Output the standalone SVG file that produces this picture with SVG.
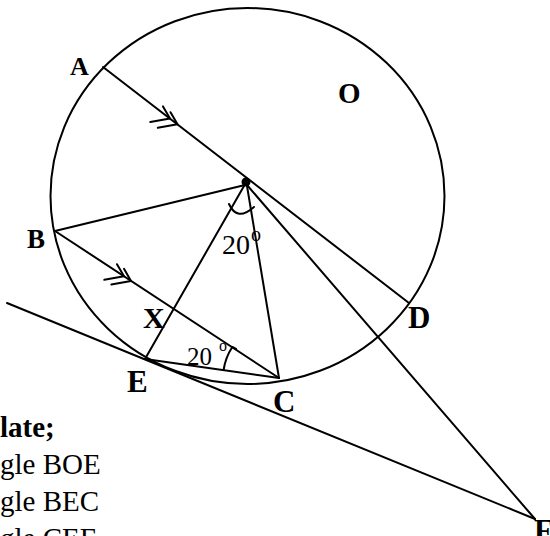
<svg xmlns="http://www.w3.org/2000/svg" width="550" height="536" viewBox="0 0 550 536">
<style>
.ln{stroke:#000;stroke-width:2;fill:none;stroke-linecap:round;stroke-linejoin:round}
.lb{font-family:"Liberation Serif","Times New Roman",serif;font-weight:bold;fill:#000}
.tx{font-family:"Liberation Serif","Times New Roman",serif;fill:#000}
</style>
<rect width="550" height="536" fill="#fff"/>
<g id="circle">
<ellipse class="ln" cx="247.5" cy="196" rx="197" ry="188"/>
</g>
<g id="connectors">
<line class="ln" x1="103" y1="67" x2="409" y2="303"/>
<line class="ln" x1="245" y1="185" x2="55" y2="231"/>
<line class="ln" x1="55" y1="231" x2="279" y2="378"/>
<line class="ln" x1="244" y1="186" x2="145" y2="359"/>
<line class="ln" x1="247" y1="186" x2="279" y2="378"/>
<line class="ln" x1="247" y1="185" x2="535" y2="519"/>
<line class="ln" x1="145" y1="359" x2="279" y2="378"/>
<line class="ln" x1="7" y1="303" x2="535" y2="519"/>
<path class="ln" d="M150.3,122 L170,118.5 L163,106.4"/>
<path class="ln" d="M157.8,127.8 L177.5,124.3 L170.5,112.2"/>
<path class="ln" d="M104.3,279.8 L124,276.3 L117,264.2"/>
<path class="ln" d="M111.3,284.4 L131,280.9 L124,268.8"/>
<path class="ln" d="M229,204 Q237,222 254,207"/>
<path class="ln" d="M223.6,370 A57,57 0 0 1 232.3,347 L236,349"/>
</g>
<g id="O">
<circle cx="246" cy="182" r="4.5" fill="#000"/>
<text class="lb" x="338" y="103" font-size="29">O</text>
</g>
<g id="A"><text class="lb" x="70" y="75" font-size="26">A</text></g>
<g id="B"><text class="lb" x="27" y="248" font-size="27">B</text></g>
<g id="X"><text class="lb" x="143" y="328" font-size="30">X</text></g>
<g id="E"><text class="lb" x="127" y="392" font-size="31">E</text></g>
<g id="C"><text class="lb" x="273" y="412" font-size="31">C</text></g>
<g id="D"><text class="lb" x="408" y="328" font-size="31">D</text></g>
<g id="F"><text class="lb" x="534" y="541" font-size="31">F</text></g>
<g id="angles">
<text class="tx" x="222" y="254" font-size="28">20</text>
<text class="tx" x="251" y="241" font-size="20">o</text>
<text class="tx" x="187" y="365" font-size="25">20</text>
<text class="tx" x="219" y="351" font-size="16">o</text>
</g>
<g id="question">
<text class="lb" x="0" y="437" font-size="29">late;</text>
<text class="tx" x="0" y="474" font-size="29">gle BOE</text>
<text class="tx" x="0" y="511" font-size="29">gle BEC</text>
<text class="tx" x="0" y="548" font-size="29">gle CEF</text>
</g>
</svg>
